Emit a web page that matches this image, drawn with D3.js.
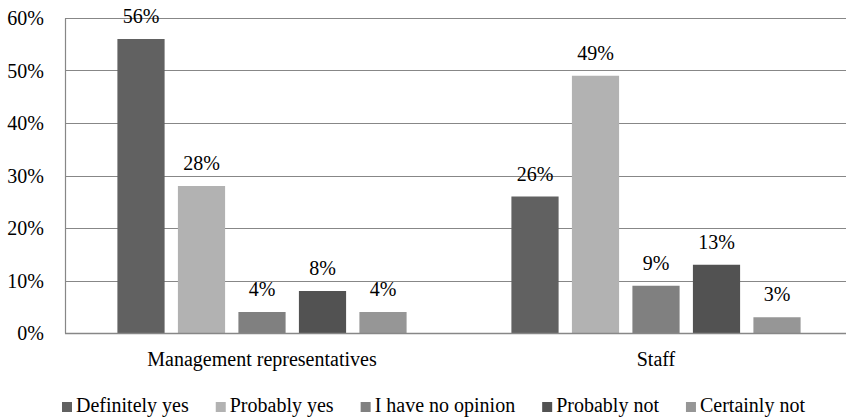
<!DOCTYPE html>
<html>
<head>
<meta charset="utf-8">
<script src="https://cdn.jsdelivr.net/npm/d3@7/dist/d3.min.js"></script>
</head>
<body style="margin:0">
<svg id="s" width="847" height="420"></svg>
<script>
const categories = ["Management representatives", "Staff"];
const seriesNames = ["Definitely yes", "Probably yes", "I have no opinion", "Probably not", "Certainly not"];
const managementValues = [56, 28, 4, 8, 4];
const staffValues = [26, 49, 9, 13, 3];
const yTicks = [0, 10, 20, 30, 40, 50, 60];
const seriesColors = ["#616161", "#b2b2b2", "#808080", "#525252", "#969696"];

const valuesByCategory = [managementValues, staffValues];

const svg = d3.select("#s");
const fontSize = 20;
const fontFamily = `"Liberation Serif", monospace`;
const gridColor = "#878787";

const plotLeft = 65, plotRight = 846, plotTop = 18, plotBottom = 333;

const y = d3.scaleLinear().domain([0, 60]).range([plotBottom, plotTop]);
const x0 = d3.scaleBand().domain(categories).range([plotLeft, 853]).paddingInner(0.266).paddingOuter(0.133);
const x1 = d3.scaleBand().domain(seriesNames).range([0, x0.bandwidth()]).paddingInner(0.22).paddingOuter(0);
const color = d3.scaleOrdinal().domain(seriesNames).range(seriesColors);

function label(sel) {
  return sel.attr("font-size", fontSize).style("font-family", fontFamily).attr("fill", "#000");
}

// gridlines
svg.append("g").selectAll("line").data(yTicks).join("line")
  .attr("x1", plotLeft).attr("x2", plotRight)
  .attr("y1", d => Math.round(y(d)) + 0.5).attr("y2", d => Math.round(y(d)) + 0.5)
  .attr("stroke", gridColor).attr("stroke-width", 1.2);

// left axis line
svg.append("line")
  .attr("x1", plotLeft + 0.5).attr("x2", plotLeft + 0.5)
  .attr("y1", Math.round(y(60)) + 0.5).attr("y2", Math.round(y(0)) + 0.5)
  .attr("stroke", gridColor).attr("stroke-width", 1.2);

// y tick labels
yTicks.forEach(d => {
  label(svg.append("text"))
    .attr("x", 44).attr("y", y(d) + 7)
    .attr("text-anchor", "end")
    .text(d + "%");
});

// bars
categories.forEach((c, i) => {
  seriesNames.forEach((s, j) => {
    const v = valuesByCategory[i][j];
    svg.append("rect")
      .attr("x", x0(c) + x1(s)).attr("width", x1.bandwidth())
      .attr("y", y(v)).attr("height", y(0) - y(v))
      .attr("fill", color(s));
  });
});

// bottom axis line on top of bars
svg.append("line")
  .attr("x1", plotLeft).attr("x2", plotRight)
  .attr("y1", Math.round(y(0)) + 0.5).attr("y2", Math.round(y(0)) + 0.5)
  .attr("stroke", gridColor).attr("stroke-width", 1.4);

// value labels and category labels
categories.forEach((c, i) => {
  seriesNames.forEach((s, j) => {
    const v = valuesByCategory[i][j];
    label(svg.append("text"))
      .attr("x", x0(c) + x1(s) + x1.bandwidth() / 2)
      .attr("y", y(v) - 16)
      .attr("text-anchor", "middle")
      .text(v + "%");
  });
  label(svg.append("text"))
    .attr("x", x0(c) + x0.bandwidth() / 2)
    .attr("y", 366)
    .attr("text-anchor", "middle")
    .text(c);
});

// legend
let lx = 62;
const gap = 27, swatch = 10, textOffset = 14;
seriesNames.forEach(name => {
  svg.append("rect")
    .attr("x", lx).attr("y", 402).attr("width", swatch).attr("height", swatch)
    .attr("fill", color(name));
  const t = label(svg.append("text"))
    .attr("x", lx + textOffset).attr("y", 412)
    .text(name);
  lx += textOffset + t.node().getComputedTextLength() + gap;
});
</script>
</body>
</html>
